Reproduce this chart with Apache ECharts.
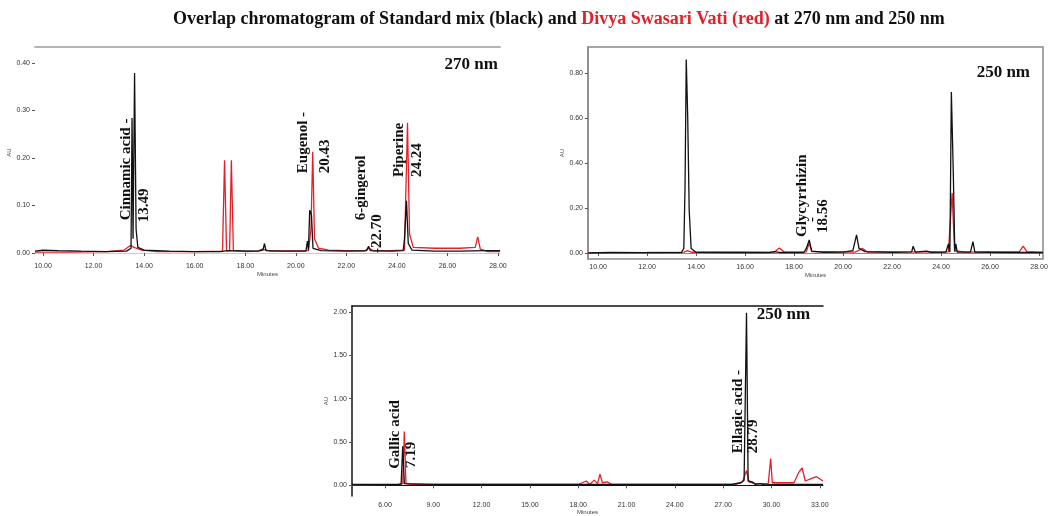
<!DOCTYPE html>
<html><head><meta charset="utf-8">
<script src="https://cdn.jsdelivr.net/npm/echarts@6/dist/echarts.min.js"></script>
<style>html,body{margin:0;padding:0;background:#fff}#c{width:1054px;height:516px}</style>
</head><body><div id="c"></div><script>
// ---- Panel 1 (270 nm) ----
const xTicks270 = [10, 12, 14, 16, 18, 20, 22, 24, 26, 28];
const yTicks270 = [0, 0.1, 0.2, 0.3, 0.4];
const std270 = [[9.68,0.004],[10.0,0.006],[10.6,0.005],[11.5,0.004],[12.5,0.003],[13.3,0.004],[13.48,0.01],[13.52,0.284],[13.56,0.03],[13.62,0.379],[13.68,0.05],[13.75,0.012],[14.0,0.006],[15,0.004],[16,0.003],[17,0.003],[17.3,0.005],[18.5,0.004],[18.7,0.006],[18.76,0.02],[18.82,0.005],[19.5,0.004],[20.4,0.004],[20.46,0.025],[20.5,0.006],[20.55,0.09],[20.62,0.08],[20.68,0.01],[21,0.005],[22,0.004],[22.8,0.005],[22.88,0.014],[22.95,0.005],[23.8,0.004],[24.25,0.005],[24.3,0.03],[24.38,0.11],[24.45,0.02],[24.6,0.006],[25.5,0.004],[26.5,0.004],[27.5,0.005],[28.08,0.005]];
const dsv270 = [[9.68,0.002],[11,0.002],[12.5,0.003],[13.2,0.006],[13.45,0.016],[13.6,0.012],[13.9,0.006],[14.5,0.003],[16,0.003],[17.1,0.004],[17.18,0.195],[17.26,0.005],[17.38,0.005],[17.45,0.195],[17.53,0.005],[18,0.003],[18.5,0.004],[18.65,0.008],[19,0.004],[20.5,0.005],[20.6,0.05],[20.67,0.213],[20.74,0.03],[20.9,0.01],[21.3,0.006],[22.7,0.004],[22.9,0.01],[23.1,0.004],[24.3,0.006],[24.42,0.274],[24.5,0.04],[24.65,0.012],[25.5,0.01],[26.5,0.01],[27.1,0.012],[27.2,0.034],[27.3,0.008],[27.6,0.003],[28.08,0.003]];
const ann270 = [['Cinnamic acid -',13.28,0.069],['13.49',14.0,0.065],['Eugenol -',20.28,0.168],['20.43',21.16,0.168],['6-gingerol',22.6,0.069],['-22.70',23.2,0.0],['Piperine',24.08,0.16],['24.24',24.8,0.16]];

// ---- Panel 2 (250 nm, standard mix 2) ----
const xTicks250a = [10, 12, 14, 16, 18, 20, 22, 24, 26, 28];
const yTicks250a = [0, 0.2, 0.4, 0.6, 0.8];
const std250a = [[9.6,0.0],[10.5,0.002],[12,0.001],[13.4,0.002],[13.5,0.02],[13.55,0.29],[13.6,0.86],[13.66,0.6],[13.72,0.19],[13.8,0.02],[14,0.003],[15.5,0.002],[17,0.001],[17.2,0.006],[17.4,0.002],[18.4,0.002],[18.5,0.02],[18.62,0.058],[18.72,0.008],[19.2,0.003],[20,0.004],[20.4,0.01],[20.55,0.08],[20.65,0.02],[20.9,0.006],[22,0.003],[22.8,0.005],[22.86,0.03],[22.95,0.004],[23.4,0.008],[23.6,0.003],[24.2,0.004],[24.3,0.04],[24.36,0.004],[24.42,0.716],[24.5,0.35],[24.56,0.006],[24.6,0.04],[24.66,0.004],[25.2,0.004],[25.3,0.05],[25.38,0.004],[26,0.003],[27,0.002],[28.16,0.002]];
const dsv250a = [[9.6,0.0],[12,0.002],[13.5,0.004],[13.65,0.01],[13.8,0.003],[17.2,0.004],[17.4,0.022],[17.6,0.004],[18.5,0.005],[18.62,0.044],[18.72,0.006],[20.5,0.004],[20.8,0.02],[21.0,0.004],[24.3,0.005],[24.45,0.267],[24.55,0.01],[25,0.004],[27.2,0.006],[27.35,0.03],[27.5,0.006],[28.16,0.002]];
const ann250a = [['Glycyrrhizin',18.33,0.071],['-',18.73,0.138],['18.56',19.18,0.089]];

// ---- Panel 3 (250 nm, standard mix 3) ----
const xTicks250b = [6, 9, 12, 15, 18, 21, 24, 27, 30, 33];
const yTicks250b = [0, 0.5, 1.0, 1.5, 2.0];
const std250b = [[3.95,0.01],[6,0.01],[7.0,0.012],[7.1,0.45],[7.2,0.02],[9,0.01],[18,0.01],[24,0.01],[27.5,0.01],[28.1,0.03],[28.3,0.06],[28.45,1.99],[28.55,0.05],[28.8,0.04],[29.0,0.01],[29.3,0.02],[29.6,0.005],[30.2,0.01],[33.2,0.01]];
const dsv250b = [[3.95,0.005],[6.8,0.01],[7.1,0.02],[7.2,0.62],[7.3,0.02],[7.6,0.01],[18,0.01],[18.5,0.05],[18.7,0.01],[19.0,0.06],[19.2,0.02],[19.35,0.13],[19.5,0.03],[19.8,0.04],[20.1,0.01],[27.8,0.01],[28.2,0.04],[28.45,0.17],[28.6,0.04],[29,0.02],[29.8,0.02],[29.95,0.31],[30.05,0.03],[31.4,0.03],[31.7,0.15],[31.9,0.2],[32.1,0.05],[32.5,0.08],[32.8,0.1],[33.2,0.05]];
const ann250b = [['Gallic acid',6.62,0.19],['7.19',7.61,0.2],['Ellagic acid -',27.93,0.37],['28.79',28.86,0.37]];

const BLACK = '#111', RED = '#e3202a';
const SERIF = '"Liberation Serif", "DejaVu Serif", serif';
const chart = echarts.init(document.getElementById('c'));

function xAx(g, min, max, ticks, lineColor) {
  return {type:'value', gridIndex:g, min:min, max:max, name:'Minutes', nameLocation:'middle', nameGap:12,
    nameTextStyle:{fontSize:6, color:'#444'},
    axisLine:{show:true, lineStyle:{color:lineColor, width:1}},
    axisTick:{show:true, customValues:ticks, length:3, lineStyle:{color:'#555'}},
    axisLabel:{customValues:ticks, fontSize:7, color:'#333', margin:5, formatter:v=>v.toFixed(2)},
    splitLine:{show:false}};
}
function topAx(g, min, max, color, width) {
  return {type:'value', gridIndex:g, min:min, max:max, position:'top',
    axisLine:{show:true, lineStyle:{color:color, width:width}}, axisTick:{show:false}, axisLabel:{show:false}, splitLine:{show:false}};
}
function yAx(g, min, max, ticks, showLine, lineColor, width) {
  return {type:'value', gridIndex:g, min:min, max:max, name:'AU', nameLocation:'middle', nameGap:20,
    nameTextStyle:{fontSize:6, color:'#444'},
    axisLine:{show:showLine, lineStyle:{color:lineColor, width:width}},
    axisTick:{show:true, customValues:ticks, length:3, lineStyle:{color:'#555'}},
    axisLabel:{customValues:ticks, fontSize:7, color:'#333', margin:5, formatter:v=>v.toFixed(2)},
    splitLine:{show:false}};
}
function line(data, color, xi, yi) {
  return {type:'line', data:data, xAxisIndex:xi, yAxisIndex:yi, showSymbol:false, symbol:'none', silent:true,
    lineStyle:{color:color, width:1.3}, animation:false};
}

chart.setOption({
  animation:false,
  title:{left:168, top:5, text:'{b|Overlap chromatogram of Standard mix (black) and }{r|Divya Swasari Vati (red)}{b| at 270 nm and 250 nm}',
    textStyle:{rich:{b:{fontFamily:SERIF, fontWeight:'bold', fontSize:18, color:'#111'}, r:{fontFamily:SERIF, fontWeight:'bold', fontSize:18, color:RED}}}},
  grid:[
    {left:35, top:47, width:465, height:211},
    {left:588, top:47, width:455, height:212, show:true, borderColor:'#8a8a8a', borderWidth:1.5},
    {left:352, top:306, width:471, height:195}
  ],
  xAxis:[
    xAx(0, 9.68, 28.08, xTicks270, '#ccc'),
    xAx(1, 9.59, 28.16, xTicks250a, '#8a8a8a'),
    xAx(2, 3.95, 33.2, xTicks250b, '#111'),
    topAx(0, 9.68, 28.08, '#b5b5b5', 2),
    topAx(2, 3.95, 33.2, '#111', 1.5)
  ],
  yAxis:[
    yAx(0, -0.0105, 0.4337, yTicks270, false, '#ccc', 1),
    yAx(1, -0.027, 0.916, yTicks250a, true, '#8a8a8a', 1.5),
    yAx(2, -0.124, 2.067, yTicks250b, true, '#111', 1.5)
  ],
  series:[
    line(dsv270, RED, 0, 0), line(std270, BLACK, 0, 0),
    line(dsv250a, RED, 1, 1), line(std250a, BLACK, 1, 1),
    line(dsv250b, RED, 2, 2), line(std250b, BLACK, 2, 2)
  ]
});

function annots(list, g) {
  return list.map(a => {
    const p = chart.convertToPixel({gridIndex:g}, [a[1], a[2]]);
    return {type:'text', x:p[0], y:p[1], rotation:Math.PI/2, silent:true,
      style:{text:a[0], fontFamily:SERIF, fontWeight:'bold', fontSize:15, fill:'#111', align:'left', verticalAlign:'middle'}};
  });
}
function waveLabel(text, g, t, v) {
  const p = chart.convertToPixel({gridIndex:g}, [t, v]);
  return {type:'text', x:p[0], y:p[1], silent:true,
    style:{text:text, fontFamily:SERIF, fontWeight:'bold', fontSize:17, fill:'#111', align:'right', verticalAlign:'middle'}};
}
chart.setOption({graphic:[].concat(
  annots(ann270, 0), annots(ann250a, 1), annots(ann250b, 2),
  [waveLabel('270 nm', 0, 28.0, 0.396), waveLabel('250 nm', 1, 27.63, 0.8), waveLabel('250 nm', 2, 32.4, 1.97)]
)});
</script></body></html>
